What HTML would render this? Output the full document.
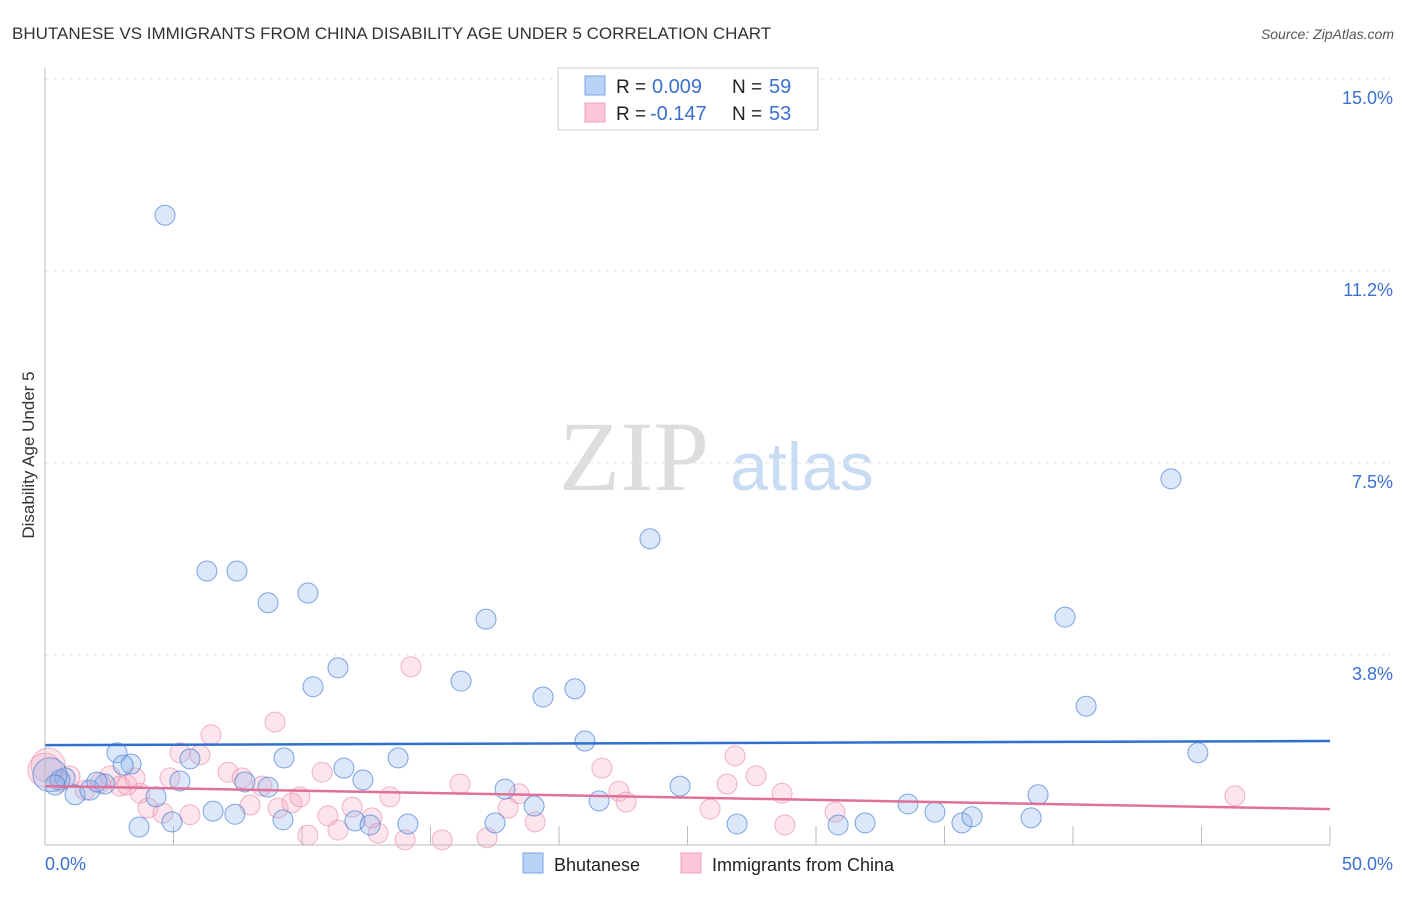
<!DOCTYPE html>
<html><head><meta charset="utf-8"><style>
body{margin:0;background:#fff;font-family:"Liberation Sans",sans-serif}
</style></head><body>
<svg id="c" width="1406" height="892" xmlns="http://www.w3.org/2000/svg">
<text x="12" y="39" font-size="17" fill="#333">BHUTANESE VS IMMIGRANTS FROM CHINA DISABILITY AGE UNDER 5 CORRELATION CHART</text>
<text x="1394" y="39" font-size="14" fill="#555" font-style="italic" text-anchor="end">Source: ZipAtlas.com</text>
<text x="34" y="455" font-size="17" fill="#333" transform="rotate(-90 34 455)" text-anchor="middle">Disability Age Under 5</text>
<text x="634" y="490" font-size="100" fill="#ddd" font-family="Liberation Serif,serif" text-anchor="middle">ZIP</text>
<text x="802" y="490" font-size="68" fill="#c8dcf3" text-anchor="middle">atlas</text>
<g id="grid"></g><g id="pts"></g><g id="lines"></g>
<line x1="45" y1="68" x2="45" y2="845" stroke="#bbb"/>
<line x1="45" y1="845" x2="1330" y2="845" stroke="#bbb"/>
<text x="45" y="870" font-size="18" fill="#3a70d0">0.0%</text>
<text x="1393" y="870" font-size="18" fill="#3a70d0" text-anchor="end">50.0%</text>
<g>
<rect x="558" y="68" width="260" height="62" fill="#fff" stroke="#ccc"/>
<rect x="585" y="76" width="20" height="19" fill="#b8d3f5" stroke="#7aa6e3"/>
<rect x="585" y="103" width="20" height="19" fill="#fcc6d6" stroke="#f0a0b8"/>
<text x="616" y="93" font-size="19" fill="#222">R =</text>
<text x="652" y="93" font-size="20" fill="#3a70d0">0.009</text>
<text x="732" y="93" font-size="19" fill="#222">N =</text>
<text x="769" y="93" font-size="20" fill="#3a70d0">59</text>
<text x="616" y="120" font-size="19" fill="#222">R =</text>
<text x="650" y="120" font-size="20" fill="#3a70d0">-0.147</text>
<text x="732" y="120" font-size="19" fill="#222">N =</text>
<text x="769" y="120" font-size="20" fill="#3a70d0">53</text>
</g>
<g>
<rect x="523" y="853" width="20" height="20" fill="#b8d3f5" stroke="#7aa6e3"/>
<text x="554" y="871" font-size="18" fill="#222">Bhutanese</text>
<rect x="681" y="853" width="20" height="20" fill="#fcc6d6" stroke="#f0a0b8"/>
<text x="712" y="871" font-size="18" fill="#222">Immigrants from China</text>
</g>
</svg>
<script>
const yTicks=[3.75,7.5,11.25,15.0];
const yTickLabels=["3.8%","7.5%","11.2%","15.0%"];
const xTicks=[5,10,15,20,25,30,35,40,45,50];
const blueX=[4.67,6.30,7.47,8.68,10.23,11.40,10.43,17.16,16.19,19.38,20.62,23.54,43.81,39.69,40.51,44.86,21.01,2.80,3.35,3.04,5.25,5.64,9.30,11.63,12.37,13.74,7.78,8.68,6.54,7.39,4.32,3.66,4.94,9.26,12.06,12.65,14.12,17.51,17.90,19.03,21.56,24.71,26.93,30.86,31.91,33.58,34.63,35.68,36.07,38.37,38.64,0.58,0.78,1.17,1.75,2.33,2.02,0.19,0.39];
const blueY=[12.34,5.39,5.39,4.77,4.96,3.50,3.13,4.45,3.24,2.93,3.09,6.02,7.19,4.49,2.75,1.84,2.07,1.84,1.62,1.60,1.29,1.72,1.74,1.54,1.31,1.74,1.27,1.17,0.70,0.64,0.98,0.39,0.49,0.53,0.51,0.43,0.45,0.47,1.13,0.80,0.90,1.19,0.45,0.43,0.47,0.84,0.68,0.47,0.59,0.57,1.02,1.31,1.35,1.02,1.11,1.23,1.27,1.41,1.21];
const pinkX=[14.24,8.95,6.46,5.25,6.03,7.12,4.86,7.67,8.44,10.78,13.42,2.53,2.92,3.70,4.01,4.59,5.64,7.98,9.07,9.61,9.92,11.01,11.40,11.95,12.72,12.96,10.23,14.01,15.45,17.20,16.15,18.44,18.02,19.07,21.67,22.33,22.61,26.85,27.67,26.54,28.68,25.88,28.79,30.74,46.30,0.58,0.97,0.12,1.56,2.14,3.19,3.50,0.00];
const pinkY=[3.52,2.44,2.19,1.84,1.80,1.46,1.35,1.35,1.19,1.46,0.98,1.39,1.19,1.05,0.76,0.66,0.63,0.82,0.76,0.86,0.98,0.61,0.33,0.78,0.57,0.27,0.23,0.14,0.14,0.18,1.23,1.04,0.76,0.49,1.54,1.09,0.88,1.78,1.39,1.23,1.05,0.74,0.43,0.68,1.00,1.27,1.39,1.60,1.11,1.25,1.21,1.35,1.50];
const blueTrend=[1.99,2.07];
const pinkTrend=[1.19,0.74];
const sx=v=>45+v*25.7, sy=v=>847-v*51.2;
const NS="http://www.w3.org/2000/svg";
function mk(t,a,p){const e=document.createElementNS(NS,t);for(const k in a)e.setAttribute(k,a[k]);p.appendChild(e);return e;}
const g=document.getElementById('grid');
yTicks.forEach((v,i)=>{
 const l=mk('line',{x1:45,x2:1390,y1:sy(v),y2:sy(v),stroke:'#e2e2e2','stroke-dasharray':'4,4'},g);
 
 
 const t=mk('text',{x:1393,y:sy(v)+25,'font-size':18,fill:'#3a70d0','text-anchor':'end'},g);
 t.textContent=yTickLabels[i];
 
 
});
xTicks.forEach(v=>{
 const l=mk('line',{x1:sx(v),x2:sx(v),y1:826,y2:845,stroke:'#bbb'},g);
 
 
});
const p=document.getElementById('pts');
function pts(X,Y,fill,stroke,name){X.forEach((x,i)=>{
 const r=(x<0.3&&Y[i]>1.4)?17:10;
 const c=mk('circle',{cx:sx(x),cy:sy(Y[i]),r:r,fill:fill,stroke:stroke,'stroke-width':1},p);
 
 
});}
pts(pinkX,pinkY,'rgba(246,170,195,0.3)','rgba(235,130,165,0.6)','china-point');
pts(blueX,blueY,'rgba(140,180,235,0.3)','rgba(70,130,215,0.7)','bhutanese-point');
const L=document.getElementById('lines');
const b=mk('line',{x1:sx(0),x2:sx(50),y1:sy(blueTrend[0]),y2:sy(blueTrend[1]),stroke:'#2f6fd0','stroke-width':2.5},L);


const q=mk('line',{x1:sx(0),x2:sx(50),y1:sy(pinkTrend[0]),y2:sy(pinkTrend[1]),stroke:'#e0709a','stroke-width':2.5},L);


</script>
</body></html>
